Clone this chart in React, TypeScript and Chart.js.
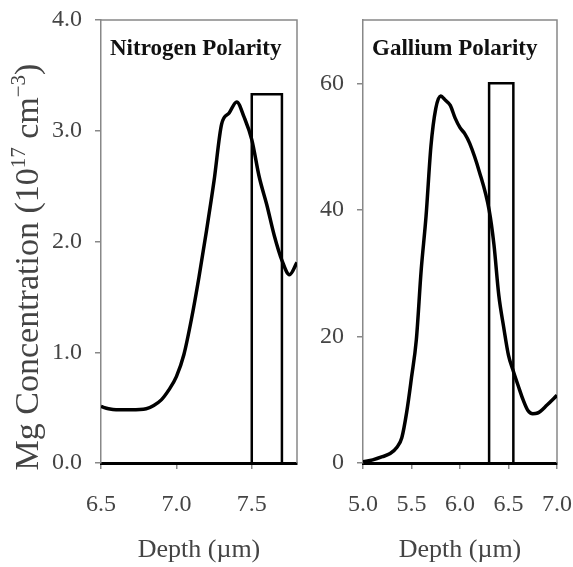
import { useEffect, useRef } from 'react';
import { Chart, registerables } from 'chart.js';

Chart.register(...registerables);

const FONT = "'Liberation Serif', 'Times New Roman', Times, serif";

// Nitrogen polarity panel
const nitrogenDepth = [6.5, 6.55, 6.6, 6.7, 6.8, 6.85, 6.9, 6.95, 7.0, 7.05, 7.1, 7.15, 7.2, 7.25, 7.3, 7.35, 7.4, 7.45, 7.5, 7.55, 7.6, 7.65, 7.7, 7.75, 7.8];
const nitrogenConc = [0.51, 0.49, 0.48, 0.48, 0.49, 0.52, 0.57, 0.66, 0.78, 0.98, 1.3, 1.68, 2.1, 2.55, 3.06, 3.16, 3.26, 3.12, 2.92, 2.58, 2.33, 2.05, 1.83, 1.7, 1.81];
const nitrogenBoxDepth = [7.5, 7.5, 7.7, 7.7];
const nitrogenBoxConc = [0, 3.33, 3.33, 0];
const nitrogenXTicks = [6.5, 7.0, 7.5];
const nitrogenYTicks = [0, 1, 2, 3, 4];

// Gallium polarity panel
const galliumDepth = [5.0, 5.1, 5.2, 5.28, 5.35, 5.4, 5.45, 5.5, 5.55, 5.6, 5.65, 5.7, 5.75, 5.8, 5.85, 5.9, 5.95, 6.0, 6.05, 6.1, 6.2, 6.3, 6.35, 6.4, 6.45, 6.5, 6.55, 6.6, 6.65, 6.7, 6.75, 6.8, 6.9, 7.0];
const galliumConc = [0.2, 0.5, 1.0, 1.5, 2.5, 4.0, 8.0, 13.5, 19.5, 30.5, 39, 50, 56, 58, 57.3, 56.5, 54.5, 53, 52, 50.5, 46, 40, 34.5, 26.5, 21.5, 17, 14.5, 12.2, 10, 8.3, 7.8, 7.9, 9.2, 10.7];
const galliumBoxDepth = [6.3, 6.3, 6.55, 6.55];
const galliumBoxConc = [0, 60, 60, 0];
const galliumXTicks = [5.0, 5.5, 6.0, 6.5, 7.0];
const galliumYTicks = [0, 20, 40, 60];

const panelPlugin = {
  id: 'panel',
  beforeDatasetsDraw(chart: any) {
    const { ctx, chartArea: a } = chart;
    ctx.save();
    ctx.strokeStyle = '#888';
    ctx.lineWidth = 1.5;
    ctx.beginPath();
    ctx.moveTo(a.left, a.top);
    ctx.lineTo(a.right, a.top);
    ctx.lineTo(a.right, a.bottom);
    ctx.stroke();
    ctx.restore();
  },
  afterDraw(chart: any, _args: any, opts: any) {
    const { ctx, chartArea: a } = chart;
    ctx.save();
    ctx.fillStyle = '#111';
    ctx.font = `bold 23px ${FONT}`;
    ctx.textBaseline = 'alphabetic';
    ctx.textAlign = 'left';
    ctx.fillText(opts.title, a.left + 9, a.top + 35);
    ctx.restore();
    if (opts.yTitle) {
      const big = `34px ${FONT}`;
      const small = `21px ${FONT}`;
      const parts = [
        { t: 'Mg Concentration (10', f: big, dy: 0 },
        { t: '17', f: small, dy: -13 },
        { t: ' cm', f: big, dy: 0 },
        { t: '\u22123', f: small, dy: -13 },
        { t: ')', f: big, dy: 0 },
      ];
      ctx.save();
      let total = 0;
      const widths = parts.map((p) => {
        ctx.font = p.f;
        const w = ctx.measureText(p.t).width;
        total += w;
        return w;
      });
      ctx.translate(opts.yTitleX, opts.yTitleY);
      ctx.rotate(-Math.PI / 2);
      ctx.fillStyle = '#444';
      ctx.textBaseline = 'alphabetic';
      ctx.textAlign = 'left';
      let x = -total / 2;
      parts.forEach((p, i) => {
        ctx.font = p.f;
        ctx.fillText(p.t, x, p.dy);
        x += widths[i];
      });
      ctx.restore();
    }
  },
};

function makeConfig(p: any): any {
  return {
    type: 'scatter',
    data: {
      datasets: [
        {
          data: p.depth.map((x: number, i: number) => ({ x, y: p.conc[i] })),
          showLine: true,
          borderColor: '#000',
          borderWidth: 3.5,
          pointRadius: 0,
          cubicInterpolationMode: 'monotone',
          fill: false,
        },
        {
          data: p.boxDepth.map((x: number, i: number) => ({ x, y: p.boxConc[i] })),
          showLine: true,
          borderColor: '#000',
          borderWidth: 2.5,
          pointRadius: 0,
          tension: 0,
          fill: false,
        },
      ],
    },
    options: {
      animation: false,
      responsive: false,
      events: [],
      layout: { padding: p.padding },
      plugins: {
        legend: { display: false },
        tooltip: { enabled: false },
        panel: { title: p.title, yTitle: p.yTitle, yTitleX: 38, yTitleY: 267 },
      },
      scales: {
        x: {
          type: 'linear',
          min: p.xMin,
          max: p.xMax,
          afterBuildTicks: (s: any) => {
            s.ticks = p.xTicks.map((v: number) => ({ value: v }));
          },
          afterFit: (s: any) => {
            s.height = 104;
            s.paddingLeft = 0;
            s.paddingRight = 0;
          },
          border: { display: true, color: '#000', width: 3 },
          grid: { drawOnChartArea: false, drawTicks: true, tickLength: 6, color: '#888', lineWidth: 1.5 },
          ticks: {
            font: { family: FONT, size: 24 },
            color: '#444',
            padding: 21,
            maxRotation: 0,
            autoSkip: false,
            callback: (v: number) => Number(v).toFixed(1),
          },
          title: {
            display: true,
            text: 'Depth (µm)',
            font: { family: FONT, size: 26 },
            color: '#444',
            padding: { top: 0, bottom: 1 },
          },
        },
        y: {
          type: 'linear',
          min: 0,
          max: p.yMax,
          afterBuildTicks: (s: any) => {
            s.ticks = p.yTicks.map((v: number) => ({ value: v }));
          },
          afterFit: (s: any) => {
            s.width = p.yWidth;
            s.paddingTop = 0;
            s.paddingBottom = 0;
          },
          border: { display: true, color: '#888', width: 1.5 },
          grid: { drawOnChartArea: false, drawTicks: true, tickLength: 6, color: '#888', lineWidth: 1.5 },
          ticks: {
            font: { family: FONT, size: 24 },
            color: '#444',
            padding: 13,
            callback: (v: number) => (p.yDecimals ? Number(v).toFixed(1) : String(v)),
          },
        },
      },
    },
    plugins: [panelPlugin],
  };
}

export default function App() {
  const leftRef = useRef<HTMLCanvasElement>(null);
  const rightRef = useRef<HTMLCanvasElement>(null);

  useEffect(() => {
    const left = new Chart(
      leftRef.current as HTMLCanvasElement,
      makeConfig({
        depth: nitrogenDepth,
        conc: nitrogenConc,
        boxDepth: nitrogenBoxDepth,
        boxConc: nitrogenBoxConc,
        xTicks: nitrogenXTicks,
        yTicks: nitrogenYTicks,
        xMin: 6.5,
        xMax: 7.8,
        yMax: 4,
        yDecimals: true,
        yWidth: 101,
        padding: { left: 0, right: 3, top: 20, bottom: 0 },
        title: 'Nitrogen Polarity',
        yTitle: true,
      })
    );
    const right = new Chart(
      rightRef.current as HTMLCanvasElement,
      makeConfig({
        depth: galliumDepth,
        conc: galliumConc,
        boxDepth: galliumBoxDepth,
        boxConc: galliumBoxConc,
        xTicks: galliumXTicks,
        yTicks: galliumYTicks,
        xMin: 5.0,
        xMax: 7.0,
        yMax: 70,
        yDecimals: false,
        yWidth: 63,
        padding: { left: 0, right: 16, top: 20, bottom: 0 },
        title: 'Gallium Polarity',
        yTitle: false,
      })
    );
    return () => {
      left.destroy();
      right.destroy();
    };
  }, []);

  return (
    <div style={{ position: 'absolute', left: 0, top: 0, width: 573, height: 567, background: '#fff' }}>
      <canvas ref={leftRef} width={300} height={567} style={{ position: 'absolute', left: 0, top: 0 }} />
      <canvas ref={rightRef} width={273} height={567} style={{ position: 'absolute', left: 300, top: 0 }} />
    </div>
  );
}
